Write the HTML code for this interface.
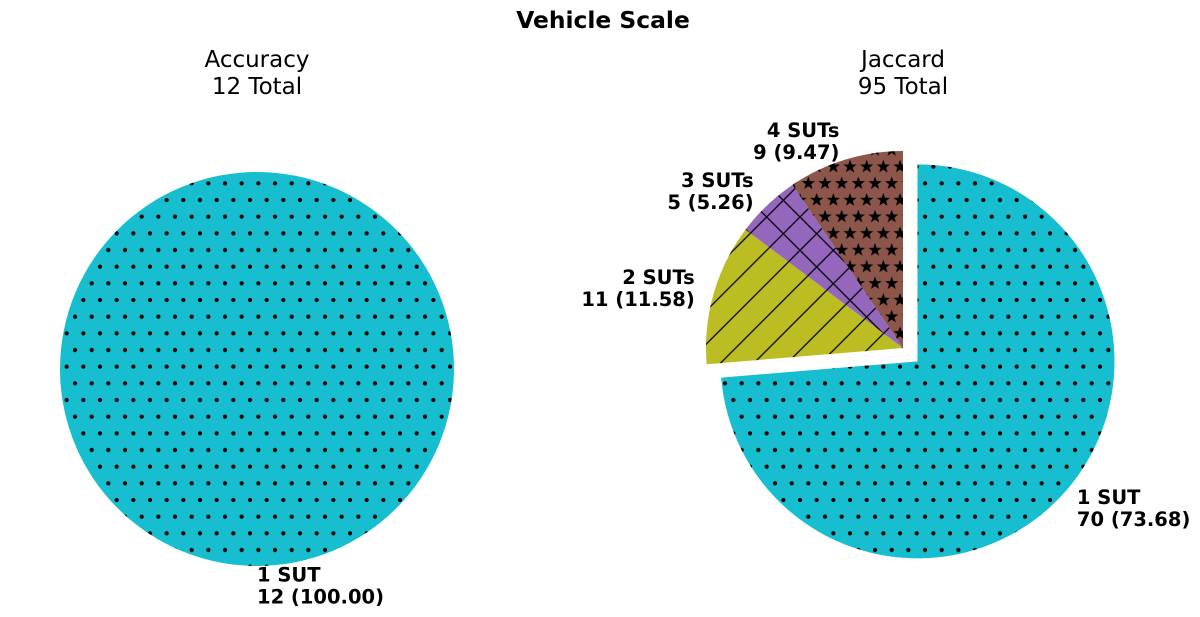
<!DOCTYPE html>
<html><head><meta charset="utf-8"><style>
html,body{margin:0;padding:0;background:#fff;}
svg{display:block;font-family:"DejaVu Sans","Liberation Sans",sans-serif;}
</style></head><body>
<svg id="chart" width="1200" height="617" viewBox="0 0 1200 617" xmlns="http://www.w3.org/2000/svg">
<defs>
<pattern id="p-dots" patternUnits="userSpaceOnUse" x="0" y="0" width="16.667" height="33.333">
<circle cx="8.333" cy="16.667" r="2.1" fill="#000"/>
<circle cx="0" cy="0" r="2.1" fill="#000"/><circle cx="16.667" cy="0" r="2.1" fill="#000"/>
<circle cx="0" cy="33.333" r="2.1" fill="#000"/><circle cx="16.667" cy="33.333" r="2.1" fill="#000"/>
</pattern>
<pattern id="p-slash" patternUnits="userSpaceOnUse" x="0" y="617" width="33.333" height="33.333">
<path d="M-5,38.333 L38.333,-5" stroke="#000" stroke-width="1.3"/>
<path d="M-5,5 L5,-5 M28.333,38.333 L38.333,28.333" stroke="#000" stroke-width="1.3"/>
</pattern>
<pattern id="p-cross" patternUnits="userSpaceOnUse" x="0" y="617" width="33.333" height="33.333">
<path d="M-5,38.333 L38.333,-5 M-5,-5 L38.333,38.333 M-5,5 L5,-5 M28.333,38.333 L38.333,28.333 M28.333,-5 L38.333,5 M-5,28.333 L5,38.333" stroke="#000" stroke-width="1.3"/>
</pattern>
<pattern id="p-stars" patternUnits="userSpaceOnUse" x="0" y="0" width="16.667" height="33.333">
<g id="star"><polygon fill="#000" points="0,-7 1.65,-2.27 6.66,-2.16 2.66,0.86 4.11,5.66 0,2.8 -4.11,5.66 -2.66,0.86 -6.66,-2.16 -1.65,-2.27"/></g>
<use href="#star" x="8.333" y="16.667"/>
<use href="#star" x="0" y="0"/><use href="#star" x="16.667" y="0"/>
<use href="#star" x="0" y="33.333"/><use href="#star" x="16.667" y="33.333"/>
</pattern>
</defs>
<text x="603" y="28" text-anchor="middle" font-size="23.4" font-weight="bold">Vehicle Scale</text>
<text x="257" y="67" text-anchor="middle" font-size="23">Accuracy</text>
<text x="257" y="94" text-anchor="middle" font-size="23">12 Total</text>
<text x="903" y="67" text-anchor="middle" font-size="23">Jaccard</text>
<text x="903" y="94" text-anchor="middle" font-size="23">95 Total</text>
<g id="pies"></g>
</svg>
<script>
const categories = ["1 SUT", "2 SUTs", "3 SUTs", "4 SUTs"];
const accuracyValues = [12];
const jaccardValues = [70, 11, 5, 9];
const accuracyExplode = [0];
const jaccardExplode = [0.1, 0, 0, 0];

const colors = ["#17becf", "#bcbd22", "#9467bd", "#8c564b"];
const fills = ["url(#p-dots)", "url(#p-slash)", "url(#p-cross)", "url(#p-stars)"];
const NS = "http://www.w3.org/2000/svg";
const g = document.getElementById("pies");

function drawPie(values, explode, cx, cy, r, prefix) {
  const total = values.reduce((a, b) => a + b, 0);
  let start = 0;
  values.forEach((v, i) => {
    const sweep = v / total * 360;
    const mid = (start + sweep / 2) * Math.PI / 180;
    const dx = Math.sin(mid), dy = -Math.cos(mid);
    const ox = cx + explode[i] * r * dx, oy = cy + explode[i] * r * dy;
    let d;
    if (sweep >= 359.999) {
      d = `M${ox - r},${oy} A${r},${r} 0 1 1 ${ox + r},${oy} A${r},${r} 0 1 1 ${ox - r},${oy} Z`;
    } else {
      const a0 = start * Math.PI / 180, a1 = (start + sweep) * Math.PI / 180;
      const x0 = ox + r * Math.sin(a0), y0 = oy - r * Math.cos(a0);
      const x1 = ox + r * Math.sin(a1), y1 = oy - r * Math.cos(a1);
      d = `M${ox},${oy} L${x0},${y0} A${r},${r} 0 ${sweep > 180 ? 1 : 0} 1 ${x1},${y1} Z`;
    }
    const base = document.createElementNS(NS, "path");
    base.setAttribute("d", d);
    base.setAttribute("fill", colors[i]);
    
    
    g.appendChild(base);
    const hatch = document.createElementNS(NS, "path");
    hatch.setAttribute("d", d);
    hatch.setAttribute("fill", fills[i]);
    
    
    g.appendChild(hatch);
    const lx = ox + 1.1 * r * dx, ly = oy + 1.1 * r * dy;
    const t = document.createElementNS(NS, "text");
    t.setAttribute("x", lx);
    t.setAttribute("y", ly);
    t.setAttribute("font-size", "19.5");
    t.setAttribute("font-weight", "bold");
    t.setAttribute("text-anchor", lx >= ox - 0.5 ? "start" : "end");
    
    
    const l1 = document.createElementNS(NS, "tspan");
    l1.setAttribute("x", lx); l1.setAttribute("dy", "-4");
    l1.textContent = categories[i];
    const l2 = document.createElementNS(NS, "tspan");
    l2.setAttribute("x", lx); l2.setAttribute("dy", "22");
    l2.textContent = v + " (" + (v / total * 100).toFixed(2) + ")";
    t.appendChild(l1); t.appendChild(l2);
    g.appendChild(t);
    start += sweep;
  });
}
drawPie(accuracyValues, accuracyExplode, 257, 369, 197, "accuracy");
drawPie(jaccardValues, jaccardExplode, 903, 348, 197, "jaccard");
</script>
</body></html>
